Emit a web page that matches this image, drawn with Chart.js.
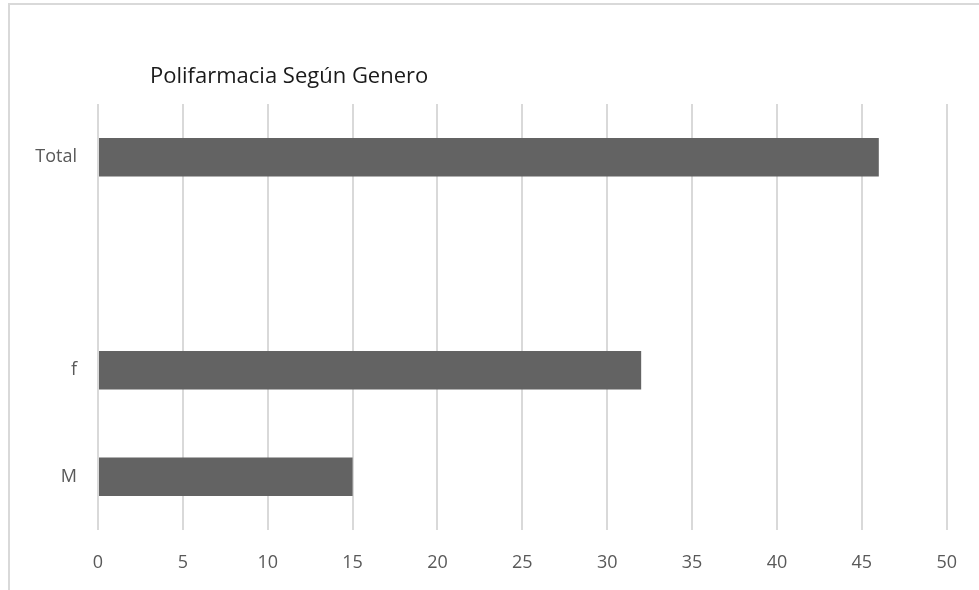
<!DOCTYPE html>
<html lang="es">
<head>
  <meta charset="UTF-8" />
  <title>Polifarmacia Según Genero</title>
  <script src="https://cdn.jsdelivr.net/npm/chart.js"></script>
  <style>
    html, body { margin: 0; padding: 0; background: #fff; }
    .wrap { position: relative; width: 979px; height: 590px; }
    .frame {
      position: absolute; left: 8px; top: 3px; right: 0; bottom: 0;
      border-top: 2px solid #d9d9d9; border-left: 2px solid #d9d9d9;
      pointer-events: none;
    }
    canvas { position: absolute; left: 0; top: 0; }
  </style>
</head>
<body>
  <div class="wrap">
    <canvas id="polyChart" width="979" height="590"></canvas>
    <div class="frame"></div>
  </div>

  <script>
// categories top to bottom; the blank one is an empty slot in the source chart
const categories = ['Total', '', 'f', 'M'];
const patients = [46, null, 32, 15];
const xTicks = [0, 5, 10, 15, 20, 25, 30, 35, 40, 45, 50];
const chartTitle = 'Polifarmacia Según Genero';

const fontFamily = '"Open Sans", "Liberation Sans", sans-serif';

// title sits a bit to the right of the plot's left edge, like in the original
const leftTitle = {
  id: 'leftTitle',
  afterDraw(chart) {
    const ctx = chart.ctx;
    ctx.save();
    ctx.font = '22px ' + fontFamily;
    ctx.fillStyle = '#1a1a1a';
    ctx.textBaseline = 'middle';
    ctx.fillText(chartTitle, chart.chartArea.left + 52, 77);
    ctx.restore();
  }
};

const ctx = document.getElementById('polyChart').getContext('2d');
new Chart(ctx, {
  type: 'bar',
  data: {
    labels: categories,
    datasets: [{
      label: chartTitle,
      data: patients,
      backgroundColor: '#636363',
      borderWidth: 0,
      categoryPercentage: 1,
      barPercentage: 0.36
    }]
  },
  options: {
    indexAxis: 'y',
    responsive: false,
    animation: false,
    layout: { padding: { top: 104, right: 32, left: 0, bottom: 0 } },
    plugins: {
      legend: { display: false },
      title: { display: false },
      tooltip: { enabled: false }
    },
    scales: {
      x: {
        min: 0,
        max: 50,
        afterBuildTicks: s => { s.ticks = xTicks.map(v => ({ value: v })); },
        grid: { color: '#d9d9d9', lineWidth: 2, drawTicks: false },
        border: { display: false },
        ticks: { color: '#595959', font: { family: fontFamily, size: 18 }, padding: 22 },
        afterFit: s => { s.height = 60; }
      },
      y: {
        grid: { display: false, drawTicks: false },
        border: { display: false },
        ticks: { color: '#595959', font: { family: fontFamily, size: 18 }, padding: 21 },
        afterFit: s => { s.width = 98; }
      }
    }
  },
  plugins: [leftTitle]
});
  </script>
</body>
</html>
